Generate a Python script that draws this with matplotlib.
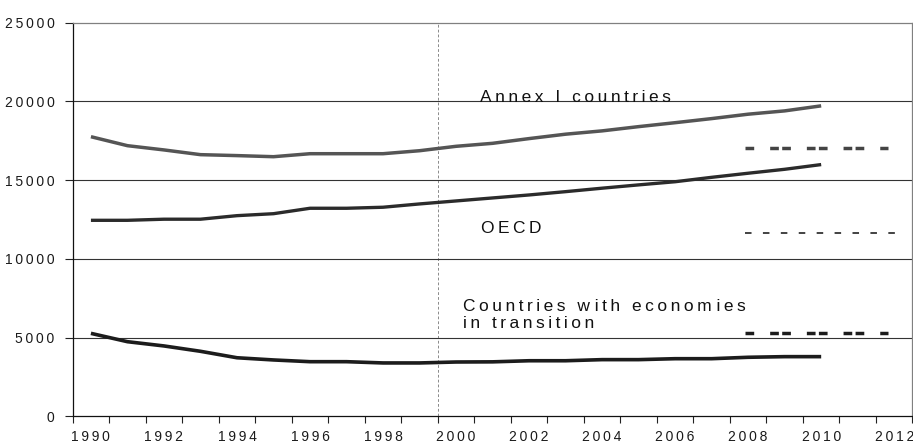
import numpy as np
import matplotlib
matplotlib.use("Agg")
import matplotlib.pyplot as plt

plt.rcParams['font.family'] = ['Liberation Sans', 'DejaVu Sans']
plt.rcParams['lines.scale_dashes'] = False

years = list(range(1990, 2011))
annex = [17760, 17190, 16920, 16620, 16560, 16490, 16680, 16680, 16680, 16870, 17150,
         17340, 17640, 17920, 18130, 18400, 18650, 18910, 19190, 19400, 19720]
oecd = [12450, 12450, 12520, 12520, 12745, 12870, 13215, 13215, 13280, 13490, 13680,
        13870, 14060, 14270, 14490, 14700, 14900, 15180, 15440, 15690, 15990]
eit = [5270, 4740, 4470, 4130, 3720, 3580, 3470, 3470, 3390, 3390, 3450,
       3460, 3530, 3530, 3600, 3600, 3660, 3660, 3750, 3790, 3790]

# Kyoto period targets (2008-2012)
target_years = [2008, 2012]
annex_target = 17070
oecd_target = 11660
eit_target = 5310

label_years = list(range(1990, 2013, 2))
yticks = [0, 5000, 10000, 15000, 20000, 25000]

THIN = '\u2009'


def spaced(s):
    # fake the wide character spacing of the original
    return THIN.join(s)


fig = plt.figure(figsize=(9.13, 4.42), dpi=100)
ax = fig.add_axes([0.0796, 0.0581, 0.9198, 0.8905])

ax.plot(years, annex, color='#555555', lw=2.5, solid_capstyle='butt', zorder=3)
ax.plot(years, oecd, color='#2b2b2b', lw=2.4, solid_capstyle='butt', zorder=3)
ax.plot(years, eit, color='#1c1c1c', lw=2.6, solid_capstyle='butt', zorder=3)

# target bars, dashed like in the original
tx = [target_years[0] - 0.08, target_years[1] - 0.16]
thick = (0, (6.26, 11.5, 6.26, 2.4))
ax.plot(tx, [annex_target] * 2, color='#444444', lw=2.5, ls=thick, dash_capstyle='butt')
ax.plot(tx, [eit_target] * 2, color='#1c1c1c', lw=2.5, ls=thick, dash_capstyle='butt')
ax.plot([target_years[0] - 0.08, target_years[1] + 0.03], [oecd_target] * 2,
        color='#222222', lw=1.2, ls=(0, (4.7, 8.2)), dash_capstyle='butt')

# separator between historical and 2000+ data
ax.axvline(1999.5, color='#777777', lw=0.6, ls=(0, (2, 1.5)), zorder=1)

ax.set_xlim(1989.5, 2012.5)
ax.set_ylim(0, 25000)
ax.set_xticks(np.arange(1989.5, 2013, 1))
ax.set_xticklabels([])
ax.set_xticks(label_years, minor=True)
ax.set_xticklabels([spaced(str(y)) for y in label_years], minor=True)
ax.tick_params(axis='x', which='major', direction='out', length=5, width=0.8, color='#222222')
ax.tick_params(axis='x', which='minor', length=0, pad=9.5, labelsize=10, labelcolor='#1a1a1a')
ax.set_yticks(yticks)
ax.set_yticklabels([spaced(str(v)) for v in yticks])
ax.tick_params(axis='y', direction='out', length=6, width=0.8, pad=7, labelsize=10,
               labelcolor='#1a1a1a', color='#222222')

for v in yticks[1:-1]:
    ax.axhline(v, color='#333333', lw=0.8, zorder=1)

ax.spines['left'].set_color('#111111')
ax.spines['bottom'].set_color('#111111')
ax.spines['top'].set_color('#808080')
ax.spines['right'].set_color('#808080')
for s in ax.spines.values():
    s.set_linewidth(0.9)

fs = 12.5
W = THIN + ' ' + THIN
ax.text(2000.66, 19950, W.join(spaced(w) for w in ['Annex', 'I', 'countries']) + THIN,
        fontsize=fs, va='baseline', ha='left', color='#111111')
ax.text(2000.69, 11665, spaced('OECD'), fontsize=fs, va='baseline', ha='left', color='#111111')
line1 = W.join([spaced('Countries'), spaced('w') + ' ' + spaced('ith'),
                spaced('econom') + ' ' + spaced('ies')])
line2 = W.join([spaced('in'), spaced('transition')])
ax.text(2000.2, 5610, line1 + '\n' + line2,
        fontsize=fs, va='baseline', ha='left', color='#111111', linespacing=1.15)

fig.savefig('out.png', dpi=100)
